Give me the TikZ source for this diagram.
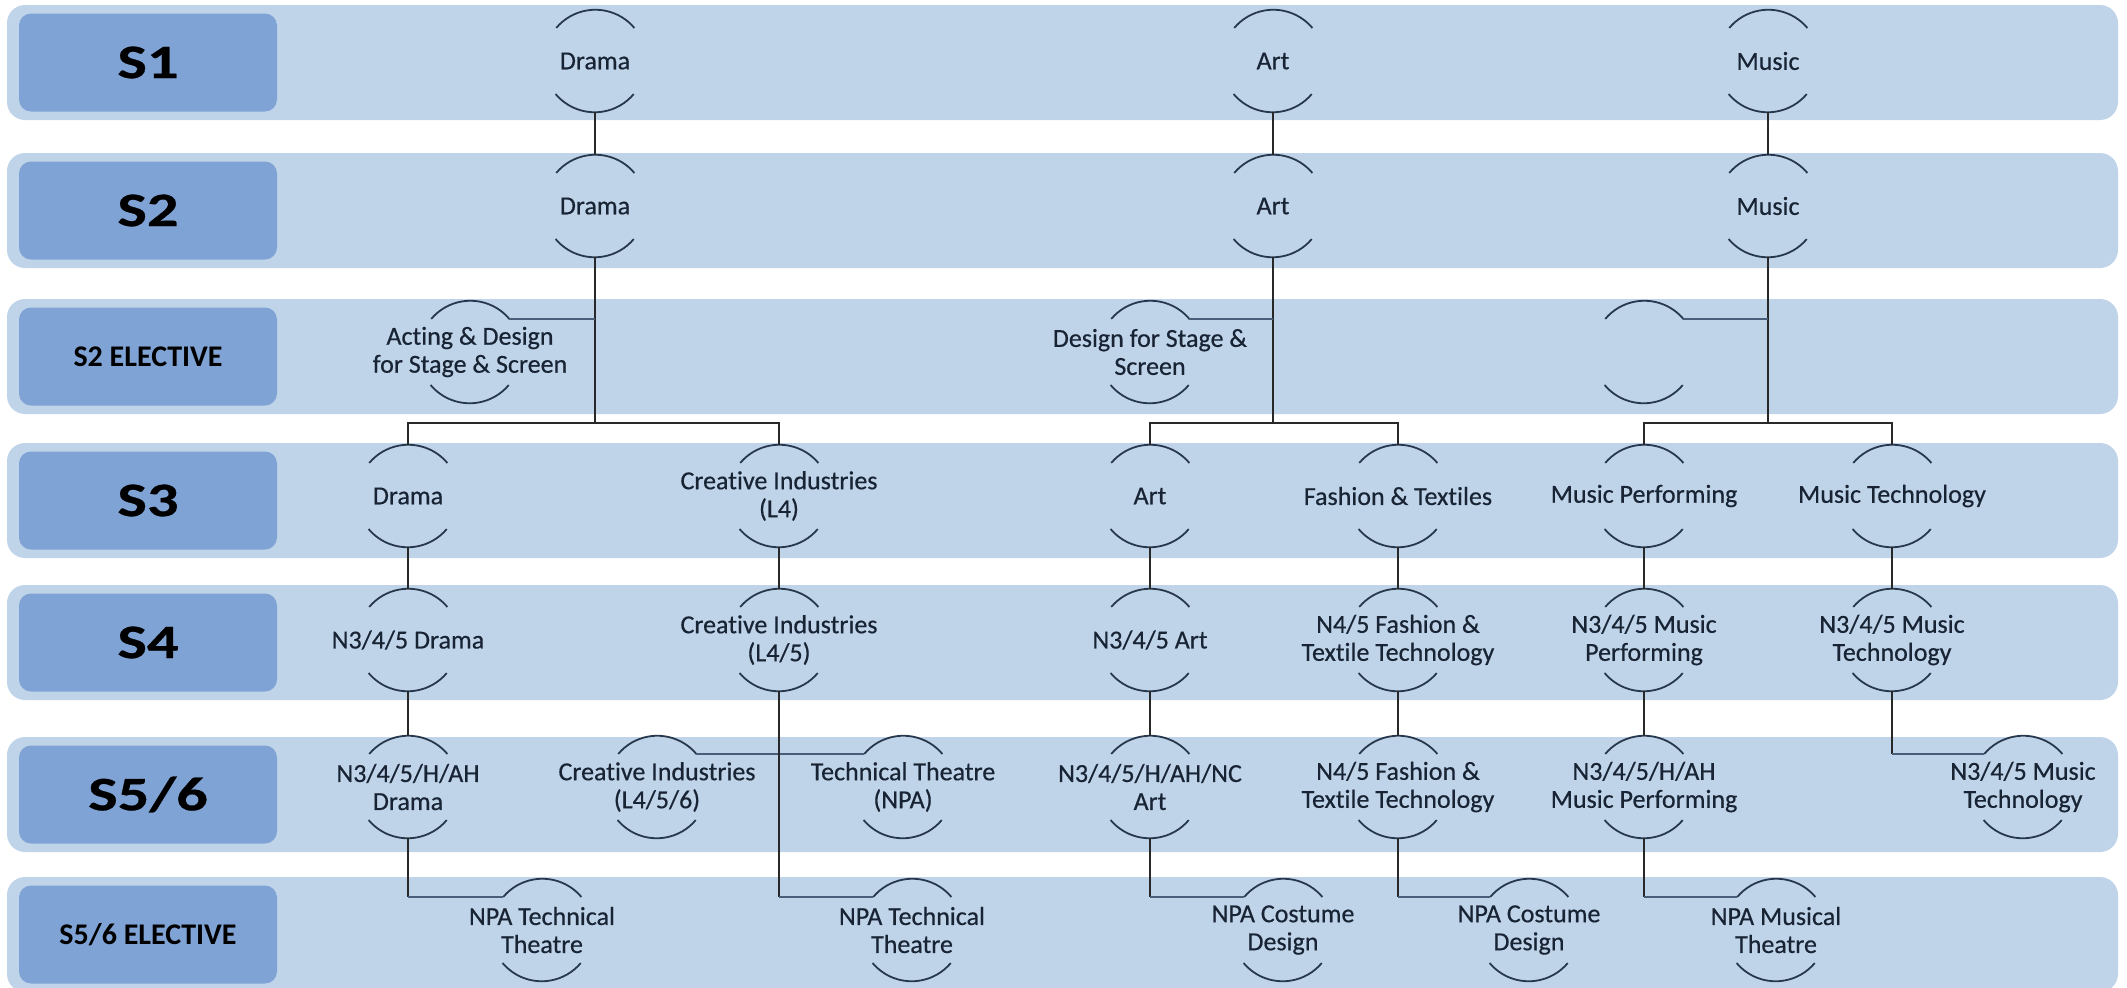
\documentclass[tikz,border=0pt]{standalone}
\usepackage{fontspec}
\setmainfont{Carlito}[Ligatures={NoCommon,NoRare}]
\newfontfamily\widefont{Carlito}[FakeStretch=1.3, FakeBold=0.6, Ligatures={NoCommon,NoRare}]
\newfontfamily\coursefont{Carlito}[FakeBold=0.5, Ligatures={NoCommon,NoRare}]

\definecolor{bandcol}{RGB}{192,212,233}
\definecolor{yearcol}{RGB}{128,163,213}
\definecolor{inkcol}{RGB}{24,36,52}
\definecolor{rimcol}{RGB}{40,56,76}
\definecolor{linkcol}{RGB}{40,40,40}
\definecolor{spurcol}{RGB}{72,94,120}

\tikzset{
  band/.style={fill=bandcol, rounded corners=9pt},
  year/.style={fill=yearcol, rounded corners=6pt, minimum width=129pt, minimum height=49pt, inner sep=0pt, text=black},
  big year/.style={year, font=\widefont\bfseries\fontsize{24}{24}\selectfont},
  small year/.style={year, font=\bfseries\fontsize{15}{15}\selectfont},
  course/.style={circle, minimum size=51pt, inner sep=0pt, label={[course text]center:{#1}}},
  course/.default={},
  course text/.style={align=center, text=inkcol, inner sep=0pt, font=\coursefont\fontsize{13}{14}\selectfont},
  rim/.style={draw=rimcol, line width=0.9pt},
  link/.style={draw=linkcol, line width=1pt},
  spur/.style={draw=spurcol, line width=1.3pt},
}

\begin{document}
\begin{tikzpicture}[x=0.5pt, y=-0.5pt]
\useasboundingbox (0,0) rectangle (2127,987);

% year bands
\foreach \top/\lab/\kind [count=\i] in {5/S1/big, 153/S2/big, 299/S2 ELECTIVE/small, 443/S3/big, 585/S4/big, 737/{S5/6}/big, 877/{S5/6 ELECTIVE}/small} {
  \fill[band] (7,\top) rectangle (2118,\top+115);
  \node[\kind\space year] (yr\i) at (148,\top+57.5) {\lab};
}

% S1
\node[course=Drama] (d1) at (595,61) {};
\node[course=Art]   (a1) at (1273,61) {};
\node[course=Music] (m1) at (1768,61) {};
% S2
\node[course=Drama] (d2) at (595,206) {};
\node[course=Art]   (a2) at (1273,206) {};
\node[course=Music] (m2) at (1768,206) {};
% S2 elective
\node[course={Acting \& Design\\for Stage \& Screen}] (ads) at (470,352) {};
\node[course={Design for Stage \&\\Screen}]           (dss) at (1150,352) {};
\node[course]                                          (mel) at (1644,352) {};
% S3
\node[course=Drama]                        (dr3) at (408,496) {};
\node[course={Creative Industries\\(L4)}]  (ci3) at (779,496) {};
\node[course=Art]                          (a3)  at (1150,496) {};
\node[course={Fashion \& Textiles}]        (ft3) at (1398,496) {};
\node[course={Music Performing}]           (mp3) at (1644,496) {};
\node[course={Music Technology}]           (mt3) at (1892,496) {};
% S4
\node[course={N3/4/5 Drama}]                       (dr4) at (408,640) {};
\node[course={Creative Industries\\(L4/5)}]        (ci4) at (779,640) {};
\node[course={N3/4/5 Art}]                         (a4)  at (1150,640) {};
\node[course={N4/5 Fashion \&\\Textile Technology}] (ft4) at (1398,640) {};
\node[course={N3/4/5 Music\\Performing}]           (mp4) at (1644,640) {};
\node[course={N3/4/5 Music\\Technology}]           (mt4) at (1892,640) {};
% S5/6
\node[course={N3/4/5/H/AH\\Drama}]                 (dr5) at (408,787) {};
\node[course={Creative Industries\\(L4/5/6)}]      (ci5) at (657,787) {};
\node[course={Technical Theatre\\(NPA)}]           (tt5) at (903,787) {};
\node[course={N3/4/5/H/AH/NC\\Art}]                (a5)  at (1150,787) {};
\node[course={N4/5 Fashion \&\\Textile Technology}] (ft5) at (1398,787) {};
\node[course={N3/4/5/H/AH\\Music Performing}]      (mp5) at (1644,787) {};
\node[course={N3/4/5 Music\\Technology}]           (mt5) at (2023,787) {};
% S5/6 elective
\node[course={NPA Technical\\Theatre}] (npa1) at (542,930) {};
\node[course={NPA Technical\\Theatre}] (npa2) at (912,930) {};
\node[course={NPA Costume\\Design}]    (npc1) at (1283,930) {};
\node[course={NPA Costume\\Design}]    (npc2) at (1529,930) {};
\node[course={NPA Musical\\Theatre}]   (npm)  at (1776,930) {};

% open rims
\foreach \n in {d1,a1,m1,d2,a2,m2,ads,dss,mel,dr3,ci3,a3,ft3,mp3,mt3,dr4,ci4,a4,ft4,mp4,mt4,dr5,ci5,tt5,a5,ft5,mp5,mt5,npa1,npa2,npc1,npc2,npm}
  \draw[rim] (\n.40) arc[start angle=40, end angle=140, radius=25.5pt]
             (\n.220) arc[start angle=220, end angle=320, radius=25.5pt];

% split points above S3
\coordinate (dbar) at (595,423);
\coordinate (abar) at (1273,423);
\coordinate (mbar) at (1768,423);

\path[link]
(d1) edge (d2)
(a1) edge (a2)
(m1) edge (m2)
(d2) edge (dbar)
(a2) edge (abar)
(m2) edge (mbar)
(dr3) edge (dr4)
(dr4) edge (dr5)
(ci3) edge (ci4)
(a3) edge (a4)
(a4) edge (a5)
(ft3) edge (ft4)
(ft4) edge (ft5)
(mp3) edge (mp4)
(mp4) edge (mp5)
(mt3) edge (mt4);

\draw[link] (dr3) |- (dbar) -| (ci3);
\draw[link] (a3) |- (abar) -| (ft3);
\draw[link] (mp3) |- (mbar) -| (mt3);

% elective spurs
\draw[spur] (ads.40) -- (ads.40 -| d2);
\draw[spur] (dss.40) -- (dss.40 -| a2);
\draw[spur] (mel.40) -- (mel.40 -| m2);
\draw[spur] (ci5.40) -- (tt5.140);

\foreach \a/\b in {dr5/npa1, ci4/npa2, a5/npc1, ft5/npc2, mp5/npm, mt4/mt5} {
  \draw[link] (\a) -- (\a |- \b.140);
  \draw[spur] (\a |- \b.140) -- (\b.140);
}
\end{tikzpicture}
\end{document}
